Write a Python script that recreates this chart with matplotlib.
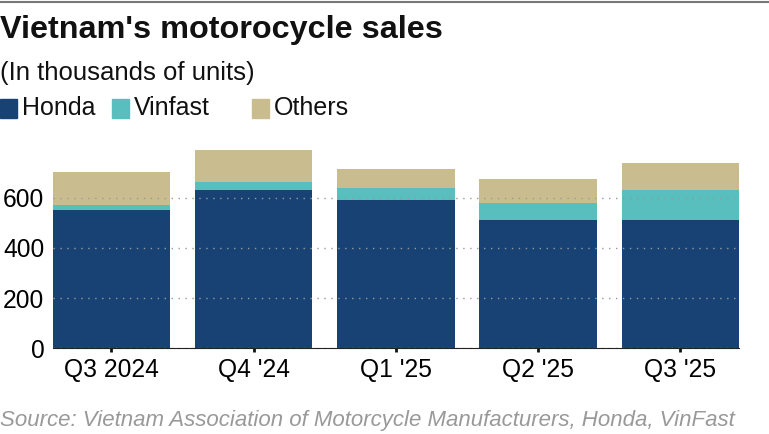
import matplotlib
matplotlib.use("Agg")
import matplotlib.pyplot as plt
from matplotlib.patches import Rectangle

# data (thousands of units)
quarters = ["Q3 2024", "Q4 '24", "Q1 '25", "Q2 '25", "Q3 '25"]
honda = [551, 631, 591, 510, 512]
vinfast = [20, 32, 48, 68, 119]
others = [130, 126, 74, 98, 106]
series_names = ["Honda", "Vinfast", "Others"]
colors = ["#174273", "#58bebe", "#c9bd90"]

plt.rcParams['font.family'] = ['Liberation Sans', 'DejaVu Sans']

fig = plt.figure(figsize=(7.69, 4.34), dpi=100)
ax = fig.add_axes([0.0685, 0.1975, 0.8925, 0.4625])

x = list(range(len(quarters)))
w = 0.825
bottom2 = [h + v for h, v in zip(honda, vinfast)]
ax.bar(x, honda, width=w, color=colors[0], zorder=2)
ax.bar(x, vinfast, width=w, bottom=honda, color=colors[1], zorder=2)
ax.bar(x, others, width=w, bottom=bottom2, color=colors[2], zorder=2)

ax.set_xlim(-w / 2, len(quarters) - 1 + w / 2)
ax.set_ylim(0, 800)
ax.set_yticks([0, 200, 400, 600])
ax.yaxis.grid(True, linestyle=(0, (1, 4)), color="#999999", linewidth=1, zorder=3)
ax.set_axisbelow(False)
for s in ["top", "right", "left"]:
    ax.spines[s].set_visible(False)
ax.spines["bottom"].set_color("#222222")
ax.spines["bottom"].set_zorder(4)
ax.set_xticks(x)
ax.set_xticklabels(quarters)
ax.tick_params(axis="x", length=3, width=2, color="#111111", labelsize=17.7, pad=4)
ax.tick_params(axis="y", length=0, labelsize=17.7, pad=6)

# top rule
fig.add_artist(plt.Line2D([0, 1], [0.996, 0.996], color="#777777", linewidth=1.5))

fig.text(0.0, 0.93, "Vietnam's motorocycle sales", fontsize=23.3, fontweight="bold",
         va="center", ha="left", color="#111111")
fig.text(0.0, 0.832, "(In thousands of units)", fontsize=18.5, va="center", ha="left",
         color="#111111")

# legend
leg_x = [0.0, 0.1456, 0.3277]
for xx, name, c in zip(leg_x, series_names, colors):
    fig.add_artist(Rectangle((xx, 0.728), 0.0221, 0.044, color=c, transform=fig.transFigure))
    fig.text(xx + 0.0286, 0.751, name, fontsize=18, va="center", ha="left", color="#111111")

fig.text(0.0, 0.032, "Source: Vietnam Association of Motorcycle Manufacturers, Honda, VinFast",
         fontsize=16, style="italic", color="#999999", va="center", ha="left")

fig.savefig("out.png", dpi=100)
